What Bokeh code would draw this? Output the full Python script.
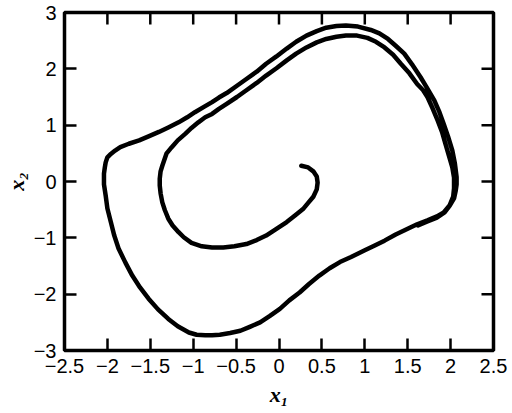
import math

from bokeh.plotting import figure
from bokeh.models import FixedTicker, Range1d
from bokeh.embed import file_html
from bokeh.resources import INLINE

# Phase-plane trajectory (x1, x2): starts near the origin, spirals outward
# and settles on the limit cycle.
x1 = [0.26, 0.34, 0.40, 0.44, 0.45, 0.44, 0.40, 0.34, 0.28, 0.19, 0.09, -0.03,
      -0.15, -0.26, -0.38, -0.52, -0.65, -0.78, -0.90, -1.02, -1.11, -1.17, -1.24,
      -1.29, -1.33, -1.36, -1.38, -1.39, -1.39, -1.38, -1.36, -1.34, -1.31, -1.25,
      -1.18, -1.09, -1.02, -0.94, -0.86, -0.78, -0.70, -0.61, -0.49, -0.38, -0.26,
      -0.15, -0.03, 0.09, 0.20, 0.32, 0.44, 0.55, 0.67, 0.78, 0.91, 1.03, 1.13,
      1.23, 1.33, 1.42, 1.52, 1.61, 1.68, 1.73, 1.79, 1.85, 1.90, 1.94, 1.98, 2.02,
      2.04, 2.04,
      2.03, 1.99, 1.92, 1.84, 1.73, 1.61, 1.50, 1.36, 1.23, 1.11, 1.00, 0.84, 0.71,
      0.59, 0.47, 0.35, 0.24, 0.12, 0.01, -0.11, -0.22, -0.34, -0.45, -0.57, -0.69,
      -0.78, -0.86, -0.96, -1.05, -1.18, -1.29, -1.41, -1.52, -1.62, -1.71, -1.79,
      -1.87, -1.92, -1.96, -2.00, -2.02, -2.04, -2.04, -2.03, -2.02, -2.00, -1.96,
      -1.91, -1.85, -1.75, -1.63, -1.52, -1.40, -1.29, -1.17, -1.07, -0.98, -0.88,
      -0.78, -0.70, -0.61, -0.49, -0.38, -0.26, -0.15, -0.03, 0.09, 0.20, 0.32,
      0.44, 0.55, 0.67, 0.78, 0.92, 1.07, 1.17, 1.27, 1.36, 1.46, 1.55, 1.65, 1.73,
      1.81, 1.87, 1.92, 1.97, 2.02, 2.05, 2.07, 2.07, 2.06,
      2.04, 1.99, 1.93, 1.84, 1.73, 1.62]
x2 = [0.28, 0.25, 0.18, 0.09, -0.02, -0.14, -0.27, -0.38, -0.49, -0.60, -0.72,
      -0.84, -0.96, -1.04, -1.11, -1.15, -1.17, -1.17, -1.15, -1.09, -0.99, -0.90,
      -0.78, -0.66, -0.51, -0.37, -0.21, -0.07, 0.05, 0.18, 0.28, 0.37, 0.50, 0.61,
      0.73, 0.85, 0.95, 1.05, 1.14, 1.20, 1.29, 1.38, 1.50, 1.62, 1.75, 1.88, 2.01,
      2.15, 2.27, 2.38, 2.47, 2.53, 2.57, 2.59, 2.59, 2.55, 2.48, 2.38, 2.25, 2.09,
      1.92, 1.73, 1.62, 1.50, 1.30, 1.08, 0.88, 0.67, 0.46, 0.25, 0.07, -0.12,
      -0.27, -0.42, -0.55, -0.62, -0.69, -0.76, -0.84, -0.94, -1.05, -1.14, -1.22,
      -1.34, -1.43, -1.54, -1.67, -1.82, -1.97, -2.11, -2.26, -2.39, -2.50, -2.58,
      -2.65, -2.69, -2.72, -2.73, -2.73, -2.72, -2.68, -2.57, -2.44, -2.27, -2.08,
      -1.88, -1.67, -1.44, -1.19, -0.96, -0.72, -0.48, -0.25, -0.05, 0.14, 0.25,
      0.34, 0.43, 0.49, 0.55, 0.61, 0.67, 0.73, 0.80, 0.88, 0.96, 1.05, 1.14, 1.23,
      1.32, 1.41, 1.49, 1.57, 1.70, 1.82, 1.95, 2.09, 2.22, 2.36, 2.48, 2.59, 2.67,
      2.73, 2.76, 2.77, 2.75, 2.69, 2.63, 2.53, 2.41, 2.27, 2.08, 1.85, 1.65, 1.44,
      1.23, 1.02, 0.80, 0.55, 0.32, 0.08, -0.05, -0.16,
      -0.30, -0.43, -0.55, -0.64, -0.71, -0.78]

x_ticks = [-2.5, -2.0, -1.5, -1.0, -0.5, 0.0, 0.5, 1.0, 1.5, 2.0, 2.5]
y_ticks = [-3.0, -2.0, -1.0, 0.0, 1.0, 2.0, 3.0]
x_tick_labels = ["\u22122.5", "\u22122", "\u22121.5", "\u22121", "\u22120.5", "0",
                 "0.5", "1", "1.5", "2", "2.5"]
y_tick_labels = ["\u22123", "\u22122", "\u22121", "0", "1", "2", "3"]

x_lo, x_hi = -2.5, 2.5
y_lo, y_hi = -3.0, 3.0

p = figure(width=512, height=413, output_backend="svg", toolbar_location=None,
           x_range=Range1d(x_lo, x_hi), y_range=Range1d(y_lo, y_hi),
           min_border_left=62, min_border_right=19, min_border_top=12,
           min_border_bottom=63)
p.background_fill_color = "white"
p.border_fill_color = "white"
p.outline_line_color = "black"
p.outline_line_width = 3.5
p.grid.visible = False

TICK_LEN = 12
TICK_W = 2.5


def style_axis(ax, ticks, labels):
    ax.ticker = FixedTicker(ticks=ticks)
    ax.axis_line_color = None
    ax.major_tick_in = TICK_LEN
    ax.major_tick_out = 0
    ax.major_tick_line_width = TICK_W
    ax.major_tick_line_color = "black"
    ax.minor_tick_line_color = None
    ax.major_label_overrides = {t: s for t, s in zip(ticks, labels)}
    ax.major_label_text_font = "Liberation Sans"
    ax.major_label_text_font_size = "20px"
    ax.major_label_text_color = "black"
    ax.axis_label_text_font = "Liberation Serif"
    ax.axis_label_text_font_style = "bold italic"
    ax.axis_label_text_font_size = "22px"
    ax.axis_label_text_color = "black"


style_axis(p.xaxis[0], x_ticks, x_tick_labels)
style_axis(p.yaxis[0], y_ticks, y_tick_labels)
p.xaxis[0].major_label_standoff = 8
p.yaxis[0].major_label_standoff = 8
p.xaxis[0].axis_label = "x\u2081"
p.yaxis[0].axis_label = "x\u2082"
p.xaxis[0].axis_label_standoff = 6
p.yaxis[0].axis_label_standoff = 2

# Inward ticks on the top and right edges of the frame (no labels there)
top_ticks = x_ticks[1:-1]
right_ticks = y_ticks[1:-1]
p.ray(x=top_ticks, y=[y_hi] * len(top_ticks), angle=-math.pi / 2,
      length=TICK_LEN, length_units="screen", line_color="black", line_width=TICK_W)
p.ray(x=[x_hi] * len(right_ticks), y=right_ticks, angle=math.pi,
      length=TICK_LEN, length_units="screen", line_color="black", line_width=TICK_W)

p.line(x1, x2, line_color="black", line_width=4.5, line_join="round", line_cap="round")

open("out.html", "w").write(file_html(p, INLINE))
